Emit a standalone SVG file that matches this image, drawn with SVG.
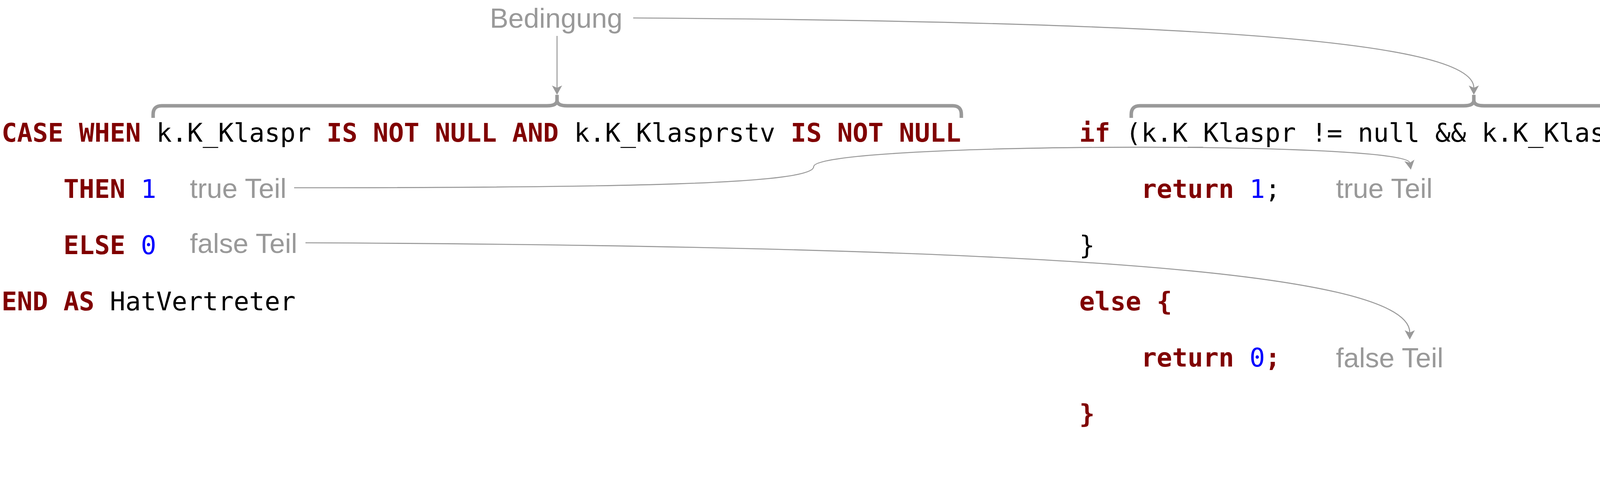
<svg xmlns="http://www.w3.org/2000/svg" width="5343" height="1263" viewBox="0 0 5343 1263">
<style>
.code{font-family:"DejaVu Sans Mono","Liberation Mono",monospace;font-size:65.8px;fill:#000}
.kw{fill:#800000;font-weight:bold}
.num{fill:#0000ff}
.lbl{font-family:"Liberation Sans",Arial,sans-serif;font-size:71px;fill:#999999}
.brace{fill:none;stroke:#999999;stroke-width:9;stroke-linejoin:round}
.conn{fill:none;stroke:#999999;stroke-width:2.6}
</style>
<defs>
<marker id="arr" markerUnits="userSpaceOnUse" viewBox="0 0 24 26" refX="6" refY="13" markerWidth="24" markerHeight="26" orient="auto">
<path d="M0,0 L24,13 L0,26 L6,13 z" fill="#999999"/>
</marker>
</defs>
<rect width="5343" height="1263" fill="#ffffff"/>

<g id="sql-code">
<text class="code" xml:space="preserve" x="4" y="363"><tspan class="kw">CASE WHEN</tspan> k.K_Klaspr <tspan class="kw">IS NOT NULL AND</tspan> k.K_Klasprstv <tspan class="kw">IS NOT NULL</tspan></text>
<text class="code" xml:space="preserve" x="4" y="507">    <tspan class="kw">THEN</tspan> <tspan class="num">1</tspan></text>
<text class="code" xml:space="preserve" x="4" y="651">    <tspan class="kw">ELSE</tspan> <tspan class="num">0</tspan></text>
<text class="code" xml:space="preserve" x="4" y="795"><tspan class="kw">END AS</tspan> HatVertreter</text>
</g>

<g id="java-code">
<text class="code" xml:space="preserve" x="2763" y="363"><tspan class="kw">if</tspan> (k.K_Klaspr != null &amp;&amp; k.K_Klasprstv != null) {</text>
<text class="code" xml:space="preserve" x="2763" y="507">    <tspan class="kw">return</tspan> <tspan class="num">1</tspan>;</text>
<text class="code" xml:space="preserve" x="2763" y="651">}</text>
<text class="code" xml:space="preserve" x="2763" y="795"><tspan class="kw">else {</tspan></text>
<text class="code" xml:space="preserve" x="2763" y="939">    <tspan class="kw">return</tspan> <tspan class="num">0</tspan><tspan class="kw">;</tspan></text>
<text class="code" xml:space="preserve" x="2763" y="1083"><tspan class="kw">}</tspan></text>
</g>

<g id="label-bedingung"><text class="lbl" x="1254" y="71">Bedingung</text></g>
<g id="label-true-left"><text class="lbl" x="486" y="507">true Teil</text></g>
<g id="label-false-left"><text class="lbl" x="486" y="648">false Teil</text></g>
<g id="label-true-right"><text class="lbl" x="3420" y="507">true Teil</text></g>
<g id="label-false-right"><text class="lbl" x="3420" y="941">false Teil</text></g>

<g id="brace-left"><path class="brace" d="M392,302 V293 Q392,271 414,271 H1400 Q1426,271 1426,257 V243 M1426,257 Q1426,271 1452,271 H2439 Q2461,271 2461,293 V302"/></g>
<g id="brace-right"><path class="brace" d="M2896,302 V293 Q2896,271 2918,271 H3747 Q3773,271 3773,257 V243 M3773,257 Q3773,271 3799,271 H4630 Q4652,271 4652,293 V302"/></g>

<g id="connectors">
<path class="conn" marker-end="url(#arr)" d="M1426,92 V225"/>
<path class="conn" marker-end="url(#arr)" d="M1621,46 C3000,55 3773,100 3773,225"/>
<path class="conn" marker-end="url(#arr)" d="M753,481 C1600,481 2083,472 2083,427 C2083,365 3600,360 3609,417"/>
<path class="conn" marker-end="url(#arr)" d="M782,622 C2600,630 3609,690 3609,852"/>
</g>
</svg>
